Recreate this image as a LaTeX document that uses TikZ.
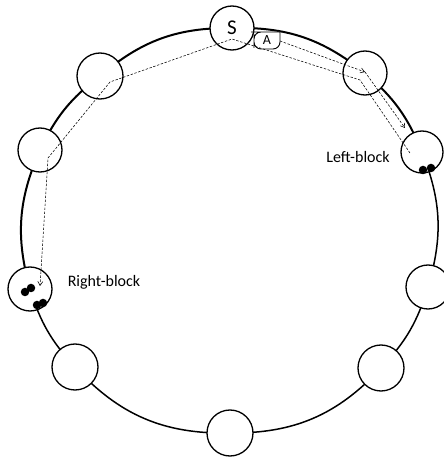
\documentclass[tikz,border=0pt]{standalone}
\usepackage{fontspec}
\setmainfont{Carlito}
\usetikzlibrary{arrows.meta}
\begin{document}
\begin{tikzpicture}[x=1pt,y=1pt,
  ringnode/.style={circle,draw,line width=1.3pt,fill=white,inner sep=0pt,minimum size=44pt},
  ring/.style={line width=2pt},
  ringthin/.style={line width=1.5pt},
  dpath/.style={line width=0.55pt,dash pattern=on 2.4pt off 1.6pt},
  darrow/.style={dpath,-{Straight Barb[length=4pt,width=5pt,line width=0.55pt]}},
  dot/.style={circle,fill=black,inner sep=0pt,minimum size=8.5pt},
  lbl/.style={font=\fontsize{16}{18}\selectfont,inner sep=0pt}]
\useasboundingbox (0,0) rectangle (444,459);
% centres
\coordinate (cS) at (232,431);
\coordinate (cTR) at (365,386);
\coordinate (cLB) at (422,307);
\coordinate (cR) at (428,172);
\coordinate (cBR) at (381,91);
\coordinate (cB) at (230,26);
\coordinate (cBL) at (75,92);
\coordinate (cRB) at (30,170);
\coordinate (cL) at (40,309);
\coordinate (cTL) at (100,383);
% ring
\draw[ring] (cRB) to[bend left=19.6] (cL) to[bend left=13.5] (cTL) to[bend left=20.4] (cS)
  to[bend left=20] (cTR) to[bend left=13.6] (cLB);
\draw[ringthin] (cLB) to[bend left=19.1] (cR) to[bend left=13.1] (cBR) to[bend left=23.8] (cB)
  to[bend left=24.2] (cBL) to[bend left=12.6] (cRB);
% nodes
\node[ringnode,font=\fontsize{21}{24}\selectfont] (S) at (cS) {S};
\node[ringnode] (TR) at (cTR) {};
\node[ringnode,minimum size=42pt] (LB) at (cLB) {};
\node[ringnode] (R) at (cR) {};
\node[ringnode,minimum size=46pt] (BR) at (cBR) {};
\node[ringnode,minimum size=46pt] (B) at (cB) {};
\node[ringnode,minimum size=46pt] (BL) at (cBL) {};
\node[ringnode] (RB) at (cRB) {};
\node[ringnode] (L) at (cL) {};
\node[ringnode,minimum size=46pt] (TL) at (cTL) {};
% A tag
\draw[line width=0.9pt,fill=white]
  (254,418) [rounded corners=7pt] -- (254,427) -- (258,427) [sharp corners] -- (280,427) [rounded corners=7pt] -- (280,410) -- (254,410) -- cycle;
\node[font=\fontsize{14}{16}\selectfont,inner sep=0pt] (A) at (267,418.5) {A};
\coordinate (Aend) at (280,418);
% dashed paths
\coordinate (u1) at (365,387);
\coordinate (u2) at (405,331);
\draw[darrow] (Aend) -- (u1);
\draw[darrow] (u1) -- (u2);
\coordinate (p0) at (410,306);
\coordinate (p1) at (360,379);
\coordinate (p2) at (232,420);
\coordinate (p3) at (110,377);
\coordinate (p4) at (48,301);
\coordinate (p5) at (40,173);
\draw[darrow] (p0) -- (p1) -- (p2) -- (p3) -- (p4) -- (p5);
% dots
\node[dot] (d1) at (25,167) {};
\node[dot] (d2) at (31,171) {};
\node[dot] (d3) at (37,154) {};
\node[dot] (d4) at (43,156) {};
\node[dot] (d5) at (423,289) {};
\node[dot] (d6) at (431,291) {};
% labels
\node[lbl] (lbLeft) at (358,302) {Left-block};
\node[lbl] (lbRight) at (104,177) {Right-block};
\end{tikzpicture}
\end{document}
